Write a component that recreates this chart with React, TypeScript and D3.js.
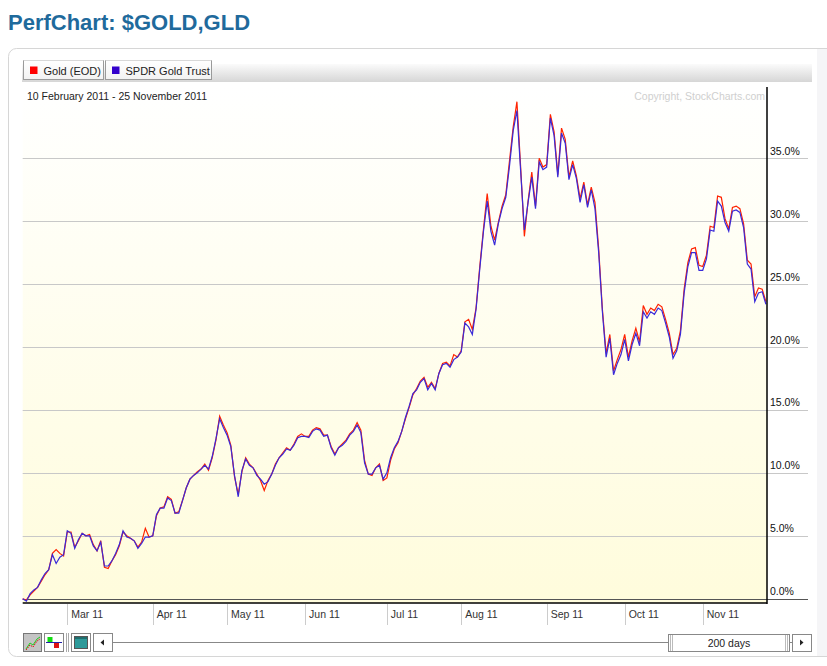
import React from "react";
import * as d3 from "d3";

const title = "PerfChart: $GOLD,GLD";
const dateRangeText = "10 February 2011 - 25 November 2011";
const copyrightText = "Copyright, StockCharts.com";
const seriesNames = ["Gold (EOD)", "SPDR Gold Trust"];
const seriesColors = ["#ff2200", "#3a2ad8"];
const legendSwatch = ["#ff0000", "#3300cc"];
const holidays = ["2011-02-21", "2011-04-22", "2011-05-30", "2011-07-04", "2011-09-05", "2011-11-24"];
const startDate = "2011-02-10";
const endDate = "2011-11-25";
const monthLabels = ["Mar 11", "Apr 11", "May 11", "Jun 11", "Jul 11", "Aug 11", "Sep 11", "Oct 11", "Nov 11"];
const yTicks = [0, 5, 10, 15, 20, 25, 30, 35];
const rangeLabel = "200 days";

// % performance since 10 Feb 2011, one value per trading day
const gold = [
  0.0, -0.1, 0.3, 0.6, 0.9, 1.4, 1.9, 2.3, 3.6, 3.9,
  3.6, 3.4, 5.3, 5.3, 4.1, 4.6, 5.2, 5.0, 5.1, 4.3,
  3.8, 4.6, 2.5, 2.4, 3.0, 3.5, 4.2, 5.3, 5.0, 4.8,
  4.6, 4.1, 4.5, 5.6, 4.9, 5.0, 6.6, 7.2, 7.3, 8.1,
  7.9, 6.8, 6.9, 7.8, 8.8, 9.5, 9.8, 10.1, 10.3, 10.7,
  10.2, 11.2, 12.6, 14.5, 13.8, 13.2, 12.2, 9.7, 8.3, 10.1,
  11.2, 10.7, 10.4, 9.9, 9.4, 8.6, 9.4, 9.9, 10.7, 11.2,
  11.6, 12.0, 11.8, 12.3, 12.9, 13.1, 12.9, 12.9, 13.4, 13.6,
  13.5, 13.0, 13.0, 12.1, 11.5, 12.0, 12.3, 12.6, 13.1, 13.4,
  14.0, 13.4, 11.0, 9.9, 9.8, 10.4, 10.7, 9.4, 9.6, 11.0,
  11.9, 12.4, 13.3, 14.3, 15.2, 16.2, 16.7, 17.3, 17.6, 16.8,
  17.2, 16.7, 17.9, 18.7, 18.8, 18.5, 19.4, 19.2, 19.7, 22.0,
  22.2, 21.4, 23.1, 26.4, 29.4, 32.2, 29.6, 28.5, 29.9, 31.2,
  32.1, 34.8, 37.5, 39.5, 34.3, 28.8, 31.6, 33.9, 31.2, 35.0,
  34.3, 34.5, 38.5, 37.1, 33.7, 37.4, 36.5, 33.5, 34.8, 33.6,
  31.8, 33.1, 31.3, 32.7, 31.5, 27.8, 23.0, 19.5, 21.0, 18.1,
  19.0, 19.8, 21.0, 19.2, 20.5, 21.5, 20.4, 23.3, 22.6, 23.1,
  22.9, 23.4, 23.2, 22.2, 21.1, 19.4, 19.9, 21.3, 24.6, 26.7,
  27.8, 27.9, 26.5, 26.4, 27.3, 29.6, 29.5, 32.0, 31.9, 30.2,
  29.4, 31.1, 31.2, 31.0, 29.8, 26.9, 26.6, 24.0, 24.7, 24.6,
  23.6,
];

const gld = [
  0.0, -0.2, 0.4, 0.7, 0.9, 1.5, 2.0, 2.3, 3.5, 2.8,
  3.3, 3.5, 5.4, 5.2, 4.0, 4.7, 5.2, 5.0, 5.0, 4.2,
  3.8, 4.5, 2.6, 2.6, 3.0, 3.6, 4.3, 5.4, 4.9, 4.8,
  4.6, 4.0, 4.4, 4.9, 4.9, 5.0, 6.7, 7.2, 7.2, 8.0,
  7.8, 6.8, 6.8, 7.8, 8.8, 9.5, 9.8, 10.0, 10.3, 10.6,
  10.3, 11.3, 12.7, 14.3, 13.6, 13.0, 12.1, 9.8, 8.1, 10.2,
  11.1, 10.6, 10.4, 9.8, 9.5, 9.1, 9.3, 9.9, 10.6, 11.2,
  11.5, 11.9, 11.8, 12.2, 12.8, 12.9, 12.9, 12.8, 13.3, 13.5,
  13.4, 12.9, 13.0, 12.0, 11.4, 12.0, 12.2, 12.5, 13.0, 13.3,
  13.8, 13.2, 10.8, 9.9, 9.9, 10.4, 10.6, 9.5, 10.0, 11.2,
  12.0, 12.5, 13.3, 14.4, 15.3, 16.3, 16.6, 17.2, 17.5, 16.6,
  17.1, 16.6, 17.9, 18.6, 18.7, 18.4, 19.0, 19.2, 19.6, 21.9,
  21.6, 21.0, 23.0, 26.2, 29.2, 31.6, 29.2, 28.1, 29.8, 31.0,
  31.9, 34.4, 37.2, 38.8, 34.0, 29.3, 31.5, 33.5, 31.0, 34.7,
  34.1, 34.3, 38.2, 36.8, 33.5, 37.0, 36.2, 33.3, 34.5, 33.4,
  31.5, 32.9, 31.1, 32.5, 31.0, 27.5, 22.8, 19.2, 20.7, 17.8,
  18.7, 19.4, 20.6, 18.9, 20.2, 21.1, 20.1, 22.8, 22.3, 22.8,
  22.6, 23.1, 22.9, 21.9, 20.8, 19.1, 19.7, 21.0, 24.3, 26.4,
  27.5, 27.5, 26.1, 26.1, 27.0, 29.3, 29.2, 31.6, 31.2, 29.9,
  29.2, 30.8, 30.9, 30.7, 29.5, 26.6, 26.2, 23.6, 24.3, 24.4,
  23.4,
];

function tradingDays(): Date[] {
  const out: Date[] = [];
  const end = new Date(endDate + "T00:00:00Z");
  for (let d = new Date(startDate + "T00:00:00Z"); d <= end; d = new Date(d.getTime() + 86400000)) {
    const wd = d.getUTCDay();
    const iso = d.toISOString().slice(0, 10);
    if (wd === 0 || wd === 6 || holidays.includes(iso)) continue;
    out.push(d);
  }
  return out;
}

const FONT = "'Liberation Sans', Arial, Helvetica, sans-serif";

export default function App() {
  const W = 827;
  const H = 666;
  const days = tradingDays();
  const n = gld.length;
  const plotL = 22.7;
  const plotR = 767;
  const plotT = 87;
  const plotB = 603;

  const x = d3.scaleLinear().domain([0, n - 1]).range([22.7, 765.9]);
  const y = d3.scaleLinear().domain([0, 35]).range([598.7, 158.3]);

  const monthIdx: number[] = [];
  for (let i = 1; i < days.length; i++) {
    if (days[i].getUTCMonth() !== days[i - 1].getUTCMonth()) monthIdx.push(i);
  }

  const line = d3
    .line<number>()
    .x((_, i) => x(i))
    .y((v) => y(v));

  return (
    <svg
      width={W}
      height={H}
      viewBox={`0 0 ${W} ${H}`}
      style={{ position: "absolute", left: 0, top: 0, display: "block", background: "#fff" }}
      fontFamily={FONT}
    >
      <defs>
        <linearGradient id="plotBg" x1="0" y1="0" x2="0" y2="1">
          <stop offset="0" stopColor="#ffffff" />
          <stop offset="1" stopColor="#fffcdc" />
        </linearGradient>
        <linearGradient id="legBar" x1="0" y1="0" x2="0" y2="1">
          <stop offset="0" stopColor="#fbfbfb" />
          <stop offset="1" stopColor="#d6d6d6" />
        </linearGradient>
        <linearGradient id="btnBg" x1="0" y1="0" x2="0" y2="1">
          <stop offset="0" stopColor="#ffffff" />
          <stop offset="1" stopColor="#f2f2f2" />
        </linearGradient>
      </defs>

      <text x={8} y={30} fontSize={22} fontWeight="bold" fill="#1f6a9c">
        {title}
      </text>

      {/* panel */}
      <rect x={8.5} y={48.5} width={840} height={608} rx={8} fill="#ffffff" stroke="#d6d6d6" />
      <rect x={817} y={49} width={10} height={607} fill="#f5f5f7" />

      {/* legend bar */}
      <rect x={22} y={64} width={790} height={18} fill="url(#legBar)" />
      {seriesNames.map((name, i) => {
        const bx = i === 0 ? 23.5 : 105.5;
        const bw = i === 0 ? 80 : 106;
        return (
          <g key={name}>
            <rect x={bx} y={60.5} width={bw} height={19} fill="url(#btnBg)" stroke="#9a9a9a" />
            <line x1={bx} y1={60.5} x2={bx + bw} y2={60.5} stroke="#d8d8d8" />
            <rect x={bx + 6.5} y={66.5} width={7.5} height={7.5} fill={legendSwatch[i]} />
            <text x={bx + 20} y={74.5} fontSize={11} fill="#222">
              {name}
            </text>
          </g>
        );
      })}

      {/* plot background */}
      <rect x={plotL} y={plotT} width={plotR - plotL} height={plotB - plotT} fill="url(#plotBg)" />

      <text x={27} y={100} fontSize={10.5} fill="#222">
        {dateRangeText}
      </text>
      <text x={765} y={99.5} fontSize={10.5} fill="#cfcfcf" textAnchor="end">
        {copyrightText}
      </text>

      {/* grid + y labels */}
      {yTicks.map((t) => (
        <g key={t}>
          <line
            x1={plotL}
            x2={808}
            y1={Math.round(y(t)) + 0.5}
            y2={Math.round(y(t)) + 0.5}
            stroke={t === 0 ? "#555" : "#c8c8c8"}
            strokeWidth={1}
          />
          <text x={770} y={y(t) - 3.5} fontSize={10.5} fill="#111">
            {t.toFixed(1) + "%"}
          </text>
        </g>
      ))}

      {/* series */}
      <path d={line(gold) || ""} fill="none" stroke={seriesColors[0]} strokeWidth={1.2} />
      <path d={line(gld) || ""} fill="none" stroke={seriesColors[1]} strokeWidth={1.2} />

      {/* axes frame */}
      <line x1={plotR} x2={plotR} y1={plotT} y2={plotB + 1} stroke="#000" strokeWidth={1.5} />
      <line x1={plotL} x2={plotR} y1={plotB} y2={plotB} stroke="#000" strokeWidth={1.5} />

      {/* month ticks */}
      {monthIdx.map((idx, k) => (
        <g key={idx}>
          <line
            x1={Math.round(x(idx)) + 0.5}
            x2={Math.round(x(idx)) + 0.5}
            y1={604}
            y2={625}
            stroke="#cccccc"
          />
          <text x={x(idx) + 4} y={618} fontSize={10.5} fill="#333">
            {monthLabels[k]}
          </text>
        </g>
      ))}

      {/* bottom toolbar */}
      <g>
        <rect x={23.5} y={633.5} width={18} height={18} fill="#c4c4c4" stroke="#777" />
        <path d="M26,649 L30,643 L33,645 L37,639 L40,637" fill="none" stroke="#22cc22" strokeWidth={1} />
        <path d="M26,650 L30,645 L33,647 L37,641 L40,639" fill="none" stroke="#dd1111" strokeWidth={1} strokeDasharray="1.5,1" />

        <rect x={44.5} y={633.5} width={19} height={18} fill="#fff" stroke="#888" />
        <rect x={47.5} y={637} width={5} height={5} fill="#11dd11" />
        <line x1={46} x2={62} y1={642.5} y2={642.5} stroke="#2222aa" />
        <rect x={54} y={643} width={5} height={5} fill="#dd1111" />

        <line x1={66.5} x2={66.5} y1={633} y2={652} stroke="#aaa" />
        <line x1={68.5} x2={68.5} y1={633} y2={652} stroke="#aaa" />

        <rect x={71.5} y={633.5} width={19} height={18} fill="#fff" stroke="#888" />
        <rect x={74.5} y={636.5} width={13} height={12} fill="#2e9a9a" stroke="#555" />
        <rect x={75} y={637} width={12} height={2} fill="#1f6e6e" />

        <rect x={93.5} y={633.5} width={19} height={18} fill="#fff" stroke="#888" />
        <path d="M100.5,642.5 L104,639.5 L104,645.5 Z" fill="#222" />

        <line x1={113} x2={668} y1={642.5} y2={642.5} stroke="#888" />

        <rect x={668.5} y={634.5} width={121} height={17} fill="#fff" stroke="#888" />
        <line x1={670.5} x2={670.5} y1={635} y2={651} stroke="#bbb" />
        <line x1={672.5} x2={672.5} y1={635} y2={651} stroke="#bbb" />
        <line x1={785.5} x2={785.5} y1={635} y2={651} stroke="#bbb" />
        <line x1={787.5} x2={787.5} y1={635} y2={651} stroke="#bbb" />
        <text x={729} y={646.5} fontSize={10.5} fill="#222" textAnchor="middle">
          {rangeLabel}
        </text>
        <line x1={790} x2={792} y1={642.5} y2={642.5} stroke="#888" />
        <rect x={792.5} y={634.5} width={19} height={17} fill="#fff" stroke="#888" />
        <path d="M800,639.5 L803.5,642.5 L800,645.5 Z" fill="#222" />
      </g>
    </svg>
  );
}
